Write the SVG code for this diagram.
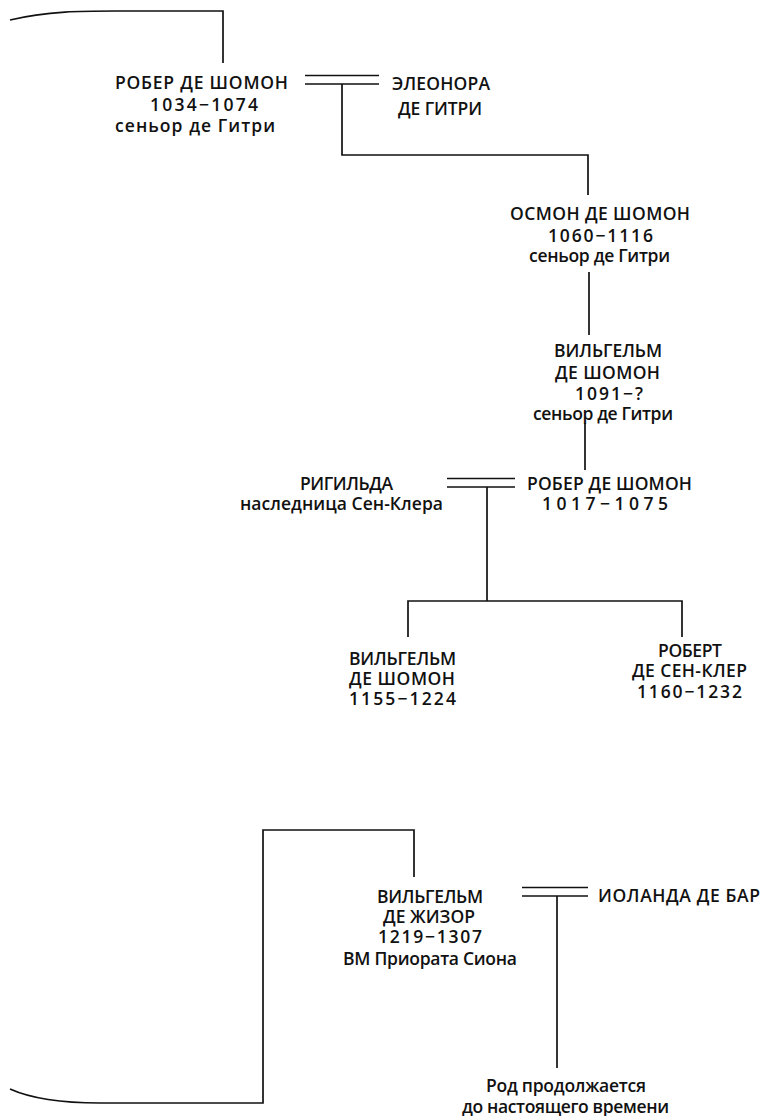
<svg xmlns="http://www.w3.org/2000/svg" width="768" height="1116" viewBox="0 0 768 1116">
<style>
text{font-family:"Open Sans","Noto Sans",sans-serif;font-size:17.5px;font-weight:600;fill:#111;text-anchor:middle}
.l{fill:none;stroke:#111;stroke-width:1.7}
</style>
<rect width="768" height="1116" fill="#fff"/>
<g id="connectors">
<path class="l" d="M10,20 C50,10 90,11 130,11 L223,11 L223,63"/>
<path class="l" d="M305,75.5 H379 M305,84 H379"/>
<path class="l" d="M342,84 V155 H588 V195"/>
<path class="l" d="M589,272 V335"/>
<path class="l" d="M585,423 V470"/>
<path class="l" d="M447,478.5 H515 M447,487 H515"/>
<path class="l" d="M487,487 V601 M408,637 V601 H682 V637"/>
<path class="l" d="M414,877 V830 H263 V1103 L100,1103 C60,1103 30,1098 10,1089"/>
<path class="l" d="M522,887.5 H588 M522,896 H588"/>
<path class="l" d="M557,896 V1068"/>
</g>
<g id="n1"><text x="201.5" y="89" textLength="173">РОБЕР ДЕ ШОМОН</text><text x="204" y="111" textLength="108">1034−1074</text><text x="195" y="132" textLength="160">сеньор де Гитри</text></g>
<g id="n2"><text x="441" y="90" textLength="98">ЭЛЕОНОРА</text><text x="440" y="115" textLength="84">ДЕ ГИТРИ</text></g>
<g id="n3"><text x="600" y="220" textLength="180">ОСМОН ДЕ ШОМОН</text><text x="600.5" y="242" textLength="105">1060−1116</text><text x="599.5" y="262" textLength="141">сеньор де Гитри</text></g>
<g id="n4"><text x="608" y="357" textLength="108">ВИЛЬГЕЛЬМ</text><text x="607.5" y="379" textLength="105">ДЕ ШОМОН</text><text x="609" y="400" textLength="68">1091−?</text><text x="603" y="420" textLength="140">сеньор де Гитри</text></g>
<g id="n5"><text x="346.5" y="490" textLength="93">РИГИЛЬДА</text><text x="341.5" y="510" textLength="203">наследница Сен-Клера</text></g>
<g id="n6"><text x="609.5" y="490" textLength="165">РОБЕР ДЕ ШОМОН</text><text x="605" y="510" textLength="126">1017−1075</text></g>
<g id="n7"><text x="402.5" y="665" textLength="107">ВИЛЬГЕЛЬМ</text><text x="402" y="685" textLength="106">ДЕ ШОМОН</text><text x="402.5" y="705" textLength="107">1155−1224</text></g>
<g id="n8"><text x="690" y="657" textLength="64">РОБЕРТ</text><text x="689.5" y="677" textLength="115">ДЕ СЕН-КЛЕР</text><text x="689.5" y="698" textLength="105">1160−1232</text></g>
<g id="n9"><text x="430" y="903" textLength="106">ВИЛЬГЕЛЬМ</text><text x="429" y="923" textLength="92">ДЕ ЖИЗОР</text><text x="430" y="943" textLength="104">1219−1307</text><text x="430" y="965" textLength="174">ВМ Приората Сиона</text></g>
<g id="n10"><text x="679" y="902" textLength="162">ИОЛАНДА ДЕ БАР</text></g>
<g id="n11"><text x="566" y="1092" textLength="160">Род продолжается</text><text x="565.5" y="1113" textLength="207">до настоящего времени</text></g>
</svg>
